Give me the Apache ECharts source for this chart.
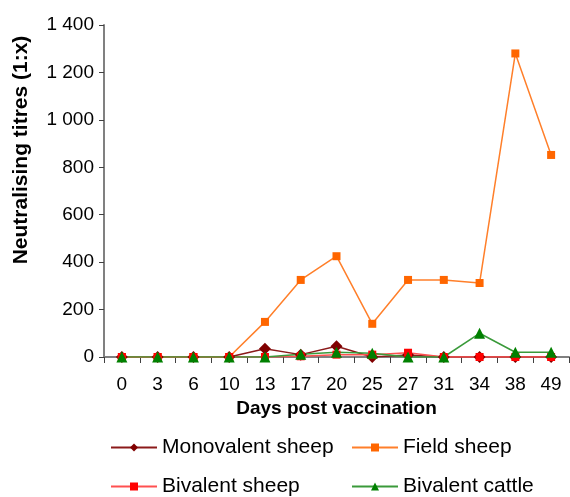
<!DOCTYPE html>
<html>
<head>
<meta charset="utf-8">
<script src="https://cdn.jsdelivr.net/npm/echarts@6/dist/echarts.min.js"></script>
<style>
html,body{margin:0;padding:0;background:#fff;}
#c{width:570px;height:497px;}
</style>
</head>
<body>
<div id="c"></div>
<script>
const days = ['0','3','6','10','13','17','20','25','27','31','34','38','49'];
const monovalentSheep = [0,0,0,0,35,10,45,0,8,0,0,0,0];
const fieldSheep = [0,0,0,0,148,325,425,140,325,325,312,1280,852];
const bivalentSheep = [0,0,0,0,0,3,10,10,18,0,0,0,0];
const bivalentCattle = [0,0,0,0,0,12,20,16,0,0,100,20,20];
const yTicks = [0,200,400,600,800,1000,1200,1400];

const FONT = 'Liberation Sans, Arial, sans-serif';
const chart = echarts.init(document.getElementById('c'));

function fmt(v){
  const s = String(v);
  return s.length > 3 ? s.slice(0, s.length-3) + ' ' + s.slice(-3) : s;
}

const legendText = {fontFamily: FONT, fontSize: 21, color: '#000'};
function leg(name, left, top){
  return {data:[name], left:left, top:top, itemWidth:46, itemHeight:10, itemGap:0,
          textStyle: legendText, padding:0, selectedMode:false};
}

chart.setOption({
  animation: false,
  backgroundColor: '#fff',
  grid: {left:104, right:1, top:25, bottom:140},
  legend: [
    leg('Monovalent sheep', 110, 437),
    leg('Field sheep', 351, 437),
    leg('Bivalent sheep', 110, 476),
    leg('Bivalent cattle', 351, 476)
  ],
  graphic: [{
    type:'text', x:21, y:150, rotation: Math.PI/2,
    style:{text:'Neutralising titres (1:x)', fontFamily:FONT, fontSize:21, fontWeight:'bold',
           fill:'#000', align:'center', verticalAlign:'middle'}
  }],
  xAxis: {
    type:'category', data: days, boundaryGap:true,
    name:'Days post vaccination', nameLocation:'middle', nameGap:42,
    nameTextStyle:{fontFamily:FONT, fontSize:19, fontWeight:'bold', color:'#000'},
    axisLine:{lineStyle:{color:'#808080', width:2}},
    axisTick:{show:true, length:6, lineStyle:{color:'#404040'}},
    axisLabel:{fontFamily:FONT, fontSize:19, color:'#000', margin:18},
    splitLine:{show:false}
  },
  yAxis: {
    type:'value', min:0, max:1400, interval:200,
    axisLine:{show:true, lineStyle:{color:'#808080', width:2}},
    axisTick:{show:true, length:5, lineStyle:{color:'#404040'}},
    axisLabel:{fontFamily:FONT, fontSize:19, color:'#000', margin:10,
               formatter: v => yTicks.includes(v) ? fmt(v) : ''},
    splitLine:{show:false}
  },
  series: [
    {name:'Monovalent sheep', type:'line', data: monovalentSheep, symbol:'diamond', symbolSize:12,
     itemStyle:{color:'#800000'}, lineStyle:{color:'#8B1A1A', width:1.5}},
    {name:'Field sheep', type:'line', data: fieldSheep, symbol:'rect', symbolSize:8,
     itemStyle:{color:'#FF6600'}, lineStyle:{color:'#FF7F2A', width:1.5}},
    {name:'Bivalent sheep', type:'line', data: bivalentSheep, symbol:'rect', symbolSize:8,
     itemStyle:{color:'#FF0000'}, lineStyle:{color:'#FF5050', width:1.5}},
    {name:'Bivalent cattle', type:'line', data: bivalentCattle, symbol:'triangle', symbolSize:11,
     itemStyle:{color:'#008000'}, lineStyle:{color:'#3A9A3A', width:1.5}}
  ]
});
</script>
</body>
</html>
